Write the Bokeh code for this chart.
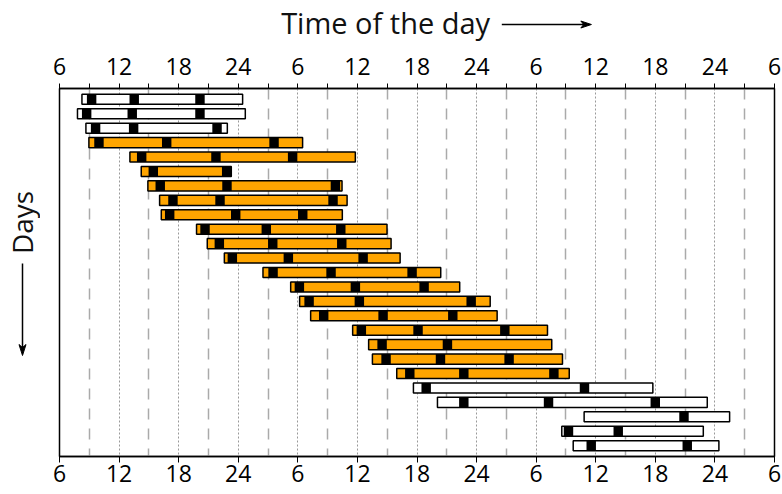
from math import pi
from bokeh.plotting import figure
from bokeh.models import ColumnDataSource, Range1d, LinearAxis, FixedTicker
from bokeh.layouts import row, column
from bokeh.core.properties import value
from bokeh.embed import file_html
from bokeh.resources import INLINE

# ---------------- data ----------------
tick_hours = [6, 12, 18, 24, 30, 36, 42, 48, 54, 60, 66, 72, 78]
tick_labels = ["6", "12", "18", "24", "6", "12", "18", "24", "6", "12", "18", "24", "6"]
minor_hours = [9, 15, 21, 27, 33, 39, 45, 51, 57, 63, 69, 75]

# one entry per day (row), hours counted from the first midnight
row_kind = ["white"] * 3 + ["orange"] * 17 + ["white"] * 5
wake_start = [8.26, 7.81, 8.66, 8.96, 13.09, 14.23, 14.90, 16.08, 16.25, 19.80,
              20.88, 22.60, 26.49, 29.28, 30.18, 31.29, 35.52, 37.13, 37.51, 39.96,
              41.64, 44.06, 58.83, 56.58, 57.73]
wake_end = [24.44, 24.71, 22.90, 30.48, 35.79, 23.30, 34.45, 34.96, 34.48, 38.98,
            39.39, 40.30, 44.39, 46.30, 49.37, 50.07, 55.14, 55.57, 56.65, 57.33,
            65.75, 71.23, 73.48, 70.83, 72.40]
meals = [
    [8.76, 13.05, 19.67],
    [8.26, 12.85, 19.67],
    [9.16, 12.99, 21.39],
    [9.50, 16.32, 27.13],
    [13.80, 21.28, 29.00],
    [14.97, 22.36],
    [15.67, 22.39, 33.31],
    [16.95, 21.69, 33.07],
    [16.62, 23.27, 30.02],
    [20.18, 26.35, 33.85],
    [21.62, 27.00, 33.95],
    [22.93, 28.57, 36.10],
    [27.03, 32.87, 41.03],
    [29.68, 35.32, 42.24],
    [30.66, 35.72, 46.98],
    [32.13, 38.11, 45.13],
    [35.92, 41.63, 50.37],
    [38.01, 44.59],
    [38.41, 43.89, 50.80],
    [40.80, 46.24, 55.31],
    [42.45, 58.39],
    [46.24, 54.77, 65.52],
    [68.41],
    [56.78, 61.79],
    [59.07, 68.74],
]

title_text = "Time of the day"
days_text = "Days"

# ---------------- layout ----------------
TOTAL_W, TOTAL_H = 782, 494
LEFT_W = 40          # strip holding the "Days" label
TOP_H = 44           # strip holding the title
MAIN_W = TOTAL_W - LEFT_W
MAIN_H = TOTAL_H - TOP_H
BL, BR, BT, BB = 19, 8, 44, 38
X0, X1 = 6, 78
Y_TOP, Y_BOT = 0.25, 25.75
BAR_H = 0.70
MEAL_W = 0.95
FONT = "Open Sans"

rows = list(range(1, len(wake_start) + 1))
colors = ["#FFA500" if k == "orange" else "white" for k in row_kind]
bars = ColumnDataSource(dict(
    left=wake_start, right=wake_end,
    top=[r - BAR_H / 2 for r in rows], bottom=[r + BAR_H / 2 for r in rows],
    color=colors))

ml, mr, mt, mb = [], [], [], []
for r, ms in zip(rows, meals):
    for m in ms:
        ml.append(m)
        mr.append(m + MEAL_W)
        mt.append(r - BAR_H / 2)
        mb.append(r + BAR_H / 2)
meal_src = ColumnDataSource(dict(left=ml, right=mr, top=mt, bottom=mb))

p = figure(width=MAIN_W, height=MAIN_H, x_range=Range1d(X0, X1),
           y_range=Range1d(Y_BOT, Y_TOP), output_backend="svg",
           toolbar_location=None, y_axis_location=None,
           min_border_left=BL, min_border_right=BR, min_border_top=BT,
           min_border_bottom=BB, background_fill_color="white",
           border_fill_color="white")
p.outline_line_color = "black"
p.outline_line_width = 1.5
for g in p.ygrid:
    g.visible = False

ticker = FixedTicker(ticks=tick_hours, minor_ticks=minor_hours)
overrides = {h: lab for h, lab in zip(tick_hours, tick_labels)}

bottom = p.xaxis[0]
bottom.ticker = ticker
bottom.major_label_overrides = overrides
bottom.major_label_text_font = FONT
bottom.major_label_text_font_size = "23px"
bottom.major_label_text_color = "black"
bottom.axis_line_color = "black"
bottom.axis_line_width = 1.5
bottom.major_tick_in = 0
bottom.major_tick_out = 6
bottom.minor_tick_in = 0
bottom.minor_tick_out = 0
bottom.major_tick_line_color = "black"
bottom.major_label_standoff = 2

top = LinearAxis(ticker=ticker, major_label_overrides=overrides,
                 major_label_text_font=FONT, major_label_text_font_size="23px",
                 major_label_text_color="black", axis_line_color="black",
                 axis_line_width=1.5, major_tick_in=0, major_tick_out=5,
                 minor_tick_in=0, minor_tick_out=5, major_tick_line_color="black",
                 minor_tick_line_color="black", major_label_standoff=9)
p.add_layout(top, "above")

p.xgrid.ticker = ticker
p.xgrid.grid_line_color = "#999999"
p.xgrid.grid_line_width = 1
p.xgrid.grid_line_dash = "2 2"
p.xgrid.minor_grid_line_color = "#aaaaaa"
p.xgrid.minor_grid_line_width = 1.5
p.xgrid.minor_grid_line_dash = "11 9"

p.quad(left="left", right="right", top="top", bottom="bottom", fill_color="color",
       line_color="black", line_width=1.5, source=bars)
p.quad(left="left", right="right", top="top", bottom="bottom", fill_color="black",
       line_color=None, source=meal_src)


def deco_fig(w, h):
    f = figure(width=w, height=h, x_range=Range1d(0, w), y_range=Range1d(0, h),
               output_backend="svg", toolbar_location=None, x_axis_location=None,
               y_axis_location=None, min_border=0, outline_line_color=None,
               background_fill_color="white", border_fill_color="white")
    for g in f.grid:
        g.visible = False
    return f


# ---- title strip (page x = LEFT_W + data x, page y = TOP_H - data y)
t = deco_fig(MAIN_W, TOP_H)
t.text(x=[270 - LEFT_W], y=[TOP_H - 22], text=[title_text], text_font=value(FONT),
       text_font_size=value("29px"), text_color="#111111", text_align="left",
       text_baseline="alphabetic")
ax0, ax1, ay = 499 - LEFT_W, 592 - LEFT_W, TOP_H - 24
t.segment(x0=[ax0], y0=[ay], x1=[ax1 - 4], y1=[ay], line_color="black", line_width=1.5)
t.patch(x=[ax1, ax1 - 11, ax1 - 8, ax1 - 11], y=[ay, ay + 3.5, ay, ay - 3.5],
        fill_color="black", line_color="black", line_width=1)

# ---- left strip (page x = data x, page y = TOTAL_H - data y)
lft = deco_fig(LEFT_W, TOTAL_H)
lft.text(x=[21], y=[TOTAL_H - 222], text=[days_text], angle=pi / 2,
         text_font=value(FONT), text_font_size=value("28px"), text_color="#111111",
         text_align="center", text_baseline="alphabetic")
dx_, dy0, dy1 = 22, TOTAL_H - 263, TOTAL_H - 355
lft.segment(x0=[dx_], y0=[dy0], x1=[dx_], y1=[dy1 + 4], line_color="black",
            line_width=1.5)
lft.patch(x=[dx_, dx_ - 3.5, dx_, dx_ + 3.5], y=[dy1, dy1 + 11, dy1 + 8, dy1 + 11],
          fill_color="black", line_color="black", line_width=1)

layout = row(lft, column(t, p, spacing=0), spacing=0)
open("out.html", "w").write(file_html(layout, INLINE))
